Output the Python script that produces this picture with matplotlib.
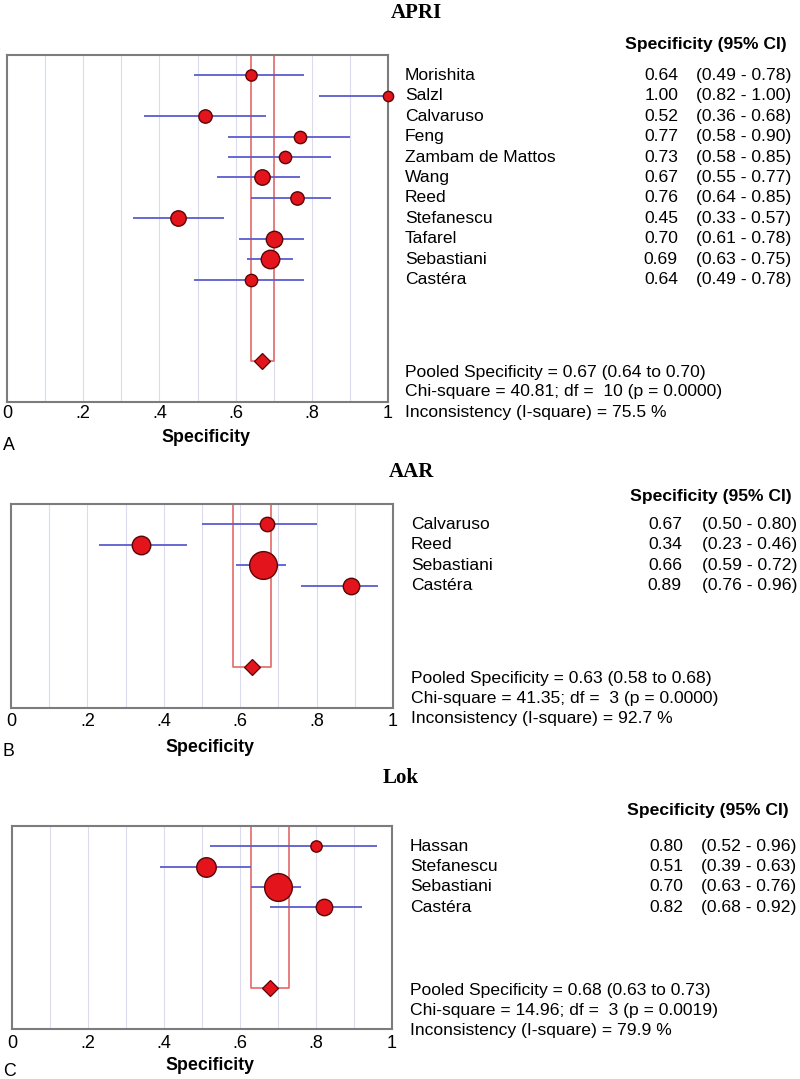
import numpy as np
import matplotlib
matplotlib.use('Agg')
import matplotlib.pyplot as plt
import matplotlib.transforms as mtransforms

plt.rcParams['font.family'] = ['Liberation Sans', 'DejaVu Sans']

W, H = 800, 1079

# ---- data ----
apri_names = ['Morishita', 'Salzl', 'Calvaruso', 'Feng', 'Zambam de Mattos', 'Wang',
              'Reed', 'Stefanescu', 'Tafarel', 'Sebastiani', 'Castéra']
apri_spec = [0.64, 1.00, 0.52, 0.77, 0.73, 0.67, 0.76, 0.45, 0.70, 0.69, 0.64]
apri_lo = [0.49, 0.82, 0.36, 0.58, 0.58, 0.55, 0.64, 0.33, 0.61, 0.63, 0.49]
apri_hi = [0.78, 1.00, 0.68, 0.90, 0.85, 0.77, 0.85, 0.57, 0.78, 0.75, 0.78]
apri_wt = [11, 10, 13, 12, 12, 15, 13, 15, 16, 18, 12]
apri_pooled = [0.67, 0.64, 0.70]
apri_stats = ['Pooled Specificity = 0.67 (0.64 to 0.70)',
              'Chi-square = 40.81; df =  10 (p = 0.0000)',
              'Inconsistency (I-square) = 75.5 %']

aar_names = ['Calvaruso', 'Reed', 'Sebastiani', 'Castéra']
aar_spec = [0.67, 0.34, 0.66, 0.89]
aar_lo = [0.50, 0.23, 0.59, 0.76]
aar_hi = [0.80, 0.46, 0.72, 0.96]
aar_wt = [14, 18, 27, 16]
aar_pooled = [0.63, 0.58, 0.68]
aar_stats = ['Pooled Specificity = 0.63 (0.58 to 0.68)',
             'Chi-square = 41.35; df =  3 (p = 0.0000)',
             'Inconsistency (I-square) = 92.7 %']

lok_names = ['Hassan', 'Stefanescu', 'Sebastiani', 'Castéra']
lok_spec = [0.80, 0.51, 0.70, 0.82]
lok_lo = [0.52, 0.39, 0.63, 0.68]
lok_hi = [0.96, 0.63, 0.76, 0.92]
lok_wt = [11, 19, 27, 16]
lok_pooled = [0.68, 0.63, 0.73]
lok_stats = ['Pooled Specificity = 0.68 (0.63 to 0.73)',
             'Chi-square = 14.96; df =  3 (p = 0.0019)',
             'Inconsistency (I-square) = 79.9 %']

xticks = [0, 0.2, 0.4, 0.6, 0.8, 1.0]
xticklabels = ['0', '.2', '.4', '.6', '.8', '1']

FS = 12.6
RED = '#e3141b'
EDGE = '#5a0505'
BLUE = '#5c5cd0'
BOX = '#e46a6a'


def fx(px):
    return px / W


def fy(py):
    return 1 - py / H


def panel(title, letter, names, spec, lo, hi, wt, pooled, stats, L):
    x0, y0, x1, y1 = L['ax']
    ax = fig.add_axes([fx(x0), fy(y1), (x1 - x0) / W, (y1 - y0) / H])
    n = len(names)
    dy = n - 1 + 4
    ax.set_xlim(0, 1)
    ax.set_ylim(n - 1 + 6, -1)
    for g in np.arange(0.1, 1.0, 0.1):
        ax.axvline(g, color='#dadcee', lw=0.8, zorder=0)
    ys = np.arange(n)
    ax.hlines(ys, lo, hi, color=BLUE, lw=1.3, zorder=2)
    for y, s, w in zip(ys, spec, wt):
        ax.plot(s, y, 'o', ms=w * 0.74, mfc=RED, mec=EDGE, mew=1.0, zorder=3, clip_on=False)
    p, plo, phi = pooled
    ax.plot([plo, plo, phi, phi], [-1, dy, dy, -1], color=BOX, lw=1.2, zorder=1)
    ax.plot(p, dy, 'D', ms=8.5, mfc=RED, mec=EDGE, mew=0.9, zorder=4)
    ax.set_xticks([])
    ax.set_yticks([])
    for sp in ax.spines.values():
        sp.set_color('#7c7c7c')
        sp.set_linewidth(1.5)

    # tick labels under the axis
    for t, lab in zip(xticks, xticklabels):
        fig.text(fx(x0 + t * (x1 - x0)), fy(L['tick']), lab, fontsize=13,
                 ha='center', va='center')
    fig.text(fx((x0 + x1) / 2 + 8), fy(L['xlab']), 'Specificity', fontsize=12.8,
             fontweight='bold', ha='center', va='center')
    fig.text(fx(3), fy(L['letter']), letter, fontsize=12.8, ha='left', va='center')

    fig.text(fx(L['title'][0]), fy(L['title'][1]), title, fontsize=15,
             family=['Liberation Serif', 'DejaVu Serif'], fontweight='bold',
             ha='center', va='center')
    fig.text(fx(L['head'][0]), fy(L['head'][1]), 'Specificity (95% CI)', fontsize=FS,
             fontweight='bold', ha='left', va='center')

    tr = mtransforms.blended_transform_factory(fig.transFigure, ax.transData)
    for y, nm, s, a, b in zip(ys, names, spec, lo, hi):
        fig.text(fx(L['name']), y, nm, fontsize=FS, ha='left', va='center', transform=tr)
        fig.text(fx(L['val']), y, '%.2f' % s, fontsize=FS, ha='right', va='center', transform=tr)
        fig.text(fx(L['ci']), y, '(%.2f - %.2f)' % (a, b), fontsize=FS, ha='left',
                 va='center', transform=tr)
    for yy, st in zip(L['stats'], stats):
        fig.text(fx(L['name']), fy(yy), st, fontsize=FS, ha='left', va='center')


fig = plt.figure(figsize=(W / 100, H / 100), dpi=100)
fig.patch.set_facecolor('white')

panel('APRI', 'A', apri_names, apri_spec, apri_lo, apri_hi, apri_wt, apri_pooled, apri_stats,
      dict(ax=(7, 55, 388, 402), title=(416, 13), head=(625, 45), name=405,
           val=678, ci=696, stats=[372, 392, 412], tick=413, xlab=437, letter=446))
panel('AAR', 'B', aar_names, aar_spec, aar_lo, aar_hi, aar_wt, aar_pooled, aar_stats,
      dict(ax=(11, 504, 393, 708), title=(411, 472), head=(630, 497), name=411,
           val=682, ci=702, stats=[678, 698, 718], tick=721, xlab=748, letter=752))
panel('Lok', 'C', lok_names, lok_spec, lok_lo, lok_hi, lok_wt, lok_pooled, lok_stats,
      dict(ax=(12, 826, 392, 1029), title=(401, 778), head=(627, 810), name=410,
           val=683, ci=701, stats=[990, 1010, 1030], tick=1043, xlab=1066, letter=1072))

fig.savefig('out.png', dpi=100, facecolor='white')
